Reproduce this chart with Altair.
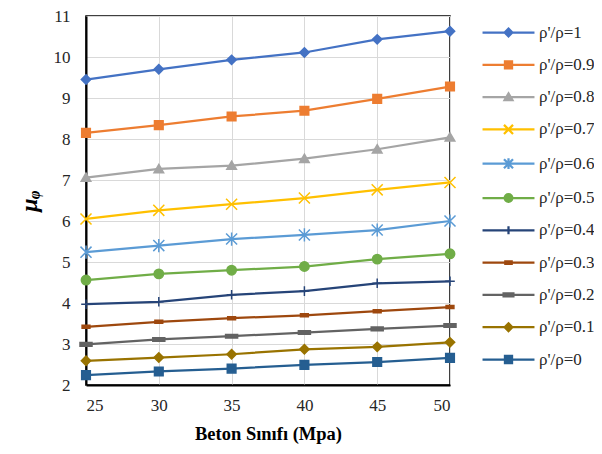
import altair as alt
import pandas as pd

beton = [25, 30, 35, 40, 45, 50]
series_names = ["ρ'/ρ=1", "ρ'/ρ=0.9", "ρ'/ρ=0.8", "ρ'/ρ=0.7", "ρ'/ρ=0.6", "ρ'/ρ=0.5",
                "ρ'/ρ=0.4", "ρ'/ρ=0.3", "ρ'/ρ=0.2", "ρ'/ρ=0.1", "ρ'/ρ=0"]
mu_1 = [9.45, 9.70, 9.93, 10.11, 10.43, 10.63]
mu_09 = [8.15, 8.34, 8.55, 8.69, 8.98, 9.28]
mu_08 = [7.06, 7.27, 7.35, 7.52, 7.75, 8.04]
mu_07 = [6.05, 6.26, 6.41, 6.56, 6.76, 6.94]
mu_06 = [5.24, 5.40, 5.56, 5.66, 5.78, 6.00]
mu_05 = [4.56, 4.71, 4.80, 4.89, 5.07, 5.20]
mu_04 = [3.97, 4.03, 4.20, 4.29, 4.48, 4.53]
mu_03 = [3.42, 3.54, 3.63, 3.70, 3.80, 3.90]
mu_02 = [2.99, 3.11, 3.19, 3.28, 3.37, 3.45]
mu_01 = [2.59, 2.67, 2.75, 2.87, 2.93, 3.04]
mu_0 = [2.24, 2.33, 2.40, 2.49, 2.56, 2.66]
all_series = [mu_1, mu_09, mu_08, mu_07, mu_06, mu_05, mu_04, mu_03, mu_02, mu_01, mu_0]

colors = ["#4472C4", "#ED7D31", "#A5A5A5", "#FFC000", "#5B9BD5", "#70AD47",
          "#264478", "#9E480E", "#636363", "#997300", "#255E91"]

rows = []
for name, vals in zip(series_names, all_series):
    for b, v in zip(beton, vals):
        rows.append({"beton": b, "mu": v, "series": name})
df = pd.DataFrame(rows)

SERIF = "Liberation Serif, Times New Roman, serif"


def f(v):
    return f"{v:.3f}"


def marker_paths(k, line=None):
    def poly(pts):
        return "M" + "L".join(f"{f(x * k)},{f(y * k)}" for x, y in pts) + "Z"

    def seg(x1, y1, x2, y2):
        return f"M{f(x1 * k)},{f(y1 * k)}L{f(x2 * k)},{f(y2 * k)}"

    r = 0.78 * k
    circle = f"M{f(r)},0A{f(r)},{f(r)} 0 1,1 {f(-r)},0A{f(r)},{f(r)} 0 1,1 {f(r)},0Z"
    diamond = poly([(0, -0.78), (0.78, 0), (0, 0.78), (-0.78, 0)])
    square = poly([(-0.72, -0.72), (0.72, -0.72), (0.72, 0.72), (-0.72, 0.72)])
    tri = poly([(0, -0.75), (0.8, 0.62), (-0.8, 0.62)])
    xs = seg(-0.92, -0.92, 0.92, 0.92) + seg(-0.92, 0.92, 0.92, -0.92)
    ast = xs + seg(0, -1.1, 0, 1.1)
    plus = seg(-0.8, 0, 0.8, 0) + seg(0, -0.8, 0, 0.8)
    dash_s = poly([(-0.65, -0.25), (0.65, -0.25), (0.65, 0.25), (-0.65, 0.25)])
    dash_l = poly([(-1.0, -0.3), (1.0, -0.3), (1.0, 0.3), (-1.0, 0.3)])
    paths = [diamond, square, tri, xs, ast, circle, plus, dash_s, dash_l, diamond, square]
    if line is not None:
        paths = [p + f"M{f(-line)},0L{f(line)},0" for p in paths]
    return paths


plot_shapes = marker_paths(1.0)
legend_shapes = marker_paths(0.82, line=4.33)

x_enc = alt.X("beton:Q", scale=alt.Scale(domain=[25, 50], nice=False, zero=False),
              axis=alt.Axis(values=beton, title="Beton Sınıfı (Mpa)", titleFontSize=18.5,
                            titleFontWeight="bold", labelPadding=12, titlePadding=11,
                            format="d"))
y_enc = alt.Y("mu:Q", scale=alt.Scale(domain=[2, 11], nice=False, zero=False),
              axis=alt.Axis(values=list(range(2, 12)), title="μᵩ", titleFontSize=24,
                            titleFontWeight="bold", titleFontStyle="italic",
                            labelPadding=16, titlePadding=12, format="d"))

base = alt.Chart(df).encode(x=x_enc, y=y_enc)

lines = base.mark_line(strokeWidth=2.25).encode(
    color=alt.Color("series:N", scale=alt.Scale(domain=series_names, range=colors), legend=None)
)

points = base.mark_point(size=144, opacity=1, strokeWidth=1.5).encode(
    shape=alt.Shape("series:N", scale=alt.Scale(domain=series_names, range=plot_shapes), legend=None),
    fill=alt.Fill("series:N", scale=alt.Scale(domain=series_names, range=colors), legend=None),
    stroke=alt.Stroke("series:N", scale=alt.Scale(domain=series_names, range=colors), legend=None),
)

leg = alt.Legend(title=None, orient="none", legendX=414, legendY=8, labelFont=SERIF,
                 labelFontSize=17, labelColor="#262626", symbolSize=144, symbolStrokeWidth=2.25,
                 rowPadding=14.3, labelOffset=22, padding=0, symbolOffset=0)

legend_layer = base.transform_filter("false").mark_point(size=144, opacity=1, strokeWidth=2.25).encode(
    shape=alt.Shape("series:N", scale=alt.Scale(domain=series_names, range=legend_shapes), legend=leg),
    fill=alt.Fill("series:N", scale=alt.Scale(domain=series_names, range=colors), legend=leg),
    stroke=alt.Stroke("series:N", scale=alt.Scale(domain=series_names, range=colors), legend=leg),
)

chart = (
    alt.layer(lines, points, legend_layer)
    .resolve_scale(shape="independent", fill="independent", stroke="independent")
    .properties(width=364, height=369, autosize=alt.AutoSizeParams(type="none"),
                padding={"left": 78, "top": 8, "right": 144, "bottom": 61})
    .configure_axis(grid=True, gridColor="#d9d9d9", gridWidth=1, domainColor="#000",
                    domainWidth=2, ticks=False, tickSize=0, labelFont=SERIF,
                    labelFontSize=17, labelColor="#262626", titleFont=SERIF,
                    titleColor="#000")
    .configure_legend(labelFont=SERIF)
    .configure_view(stroke="#000", strokeWidth=1.5)
)

chart.save("out.html", embed_options={"renderer": "svg", "actions": False})
